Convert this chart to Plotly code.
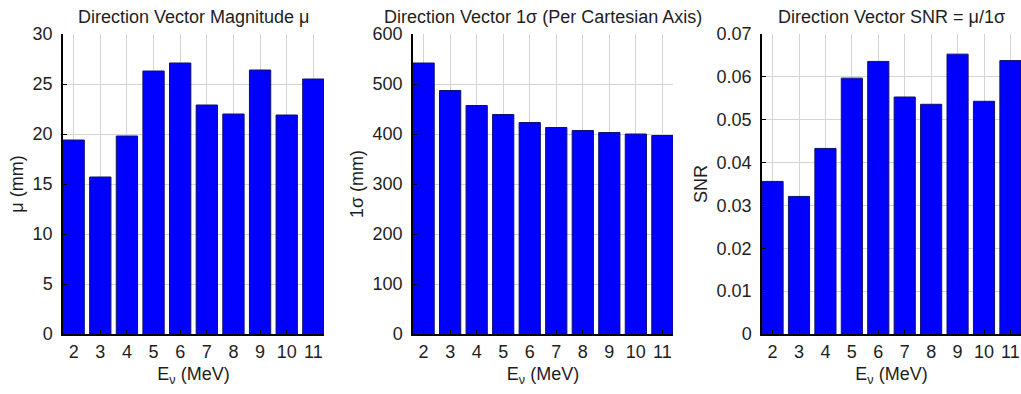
import plotly.graph_objects as go

# Neutrino energy bins (MeV)
energy = [2, 3, 4, 5, 6, 7, 8, 9, 10, 11]
energy_labels = ["2", "3", "4", "5", "6", "7", "8", "9", "10", "11"]

# Direction vector magnitude mu (mm)
mu_mm = [19.4, 15.7, 19.8, 26.3, 27.1, 22.9, 22.0, 26.4, 21.9, 25.5]
# Direction vector 1-sigma per Cartesian axis (mm)
sigma_mm = [542, 487, 457, 439, 423, 413, 407, 403, 400, 397]
# Signal-to-noise ratio mu / 1sigma
snr = [0.0356, 0.0321, 0.0433, 0.0597, 0.0636, 0.0553, 0.0536, 0.0653, 0.0543, 0.0638]

titles = [
    "Direction Vector Magnitude μ",
    "Direction Vector 1σ (Per Cartesian Axis)",
    "Direction Vector SNR = μ/1σ",
]
y_titles = ["μ (mm)", "1σ (mm)", "SNR"]
y_ranges = [(0, 30), (0, 600), (0, 0.07)]
y_dticks = [5, 100, 0.01]
series = [mu_mm, sigma_mm, snr]

W, H = 1021, 394
domains = [(63 / W, 324 / W), (413 / W, 673 / W), (762 / W, 1.0)]

FONT = "Liberation Sans, Arial, sans-serif"
TXT = "#1e1e1e"
BAR_BLUE = "#0000ff"
EDGE = "#10106a"
GRID = "#d4d4d4"

fig = go.Figure()

for i, (vals, dom) in enumerate(zip(series, domains)):
    xa = "x" if i == 0 else f"x{i + 1}"
    ya = "y" if i == 0 else f"y{i + 1}"
    fig.add_trace(go.Bar(
        x=energy, y=vals, width=0.8,
        marker=dict(color=BAR_BLUE, line=dict(color=EDGE, width=1)),
        xaxis=xa, yaxis=ya, showlegend=False,
    ))
    xkey = "xaxis" if i == 0 else f"xaxis{i + 1}"
    ykey = "yaxis" if i == 0 else f"yaxis{i + 1}"
    fig.layout[xkey] = dict(
        domain=list(dom), anchor=ya, range=[1.6, 11.4],
        tickmode="array", tickvals=energy, ticktext=energy_labels,
        ticks="inside", ticklen=4, tickcolor="black",
        showgrid=True, gridcolor=GRID, gridwidth=1,
        showline=True, linecolor="black", linewidth=1.5,
        zeroline=False,
        tickfont=dict(family=FONT, size=18, color=TXT),
        title=dict(text="E<sub>ν</sub> (MeV)", standoff=6,
                   font=dict(family=FONT, size=18, color=TXT)),
        ticklabelstandoff=1,
    )
    lo, hi = y_ranges[i]
    fig.layout[ykey] = dict(
        domain=[0, 1], anchor=xa, range=[lo, hi], dtick=y_dticks[i], tick0=0,
        ticks="inside", ticklen=4, tickcolor="black",
        showgrid=True, gridcolor=GRID, gridwidth=1,
        showline=True, linecolor="black", linewidth=1.5,
        zeroline=False,
        tickfont=dict(family=FONT, size=18, color=TXT),
        title=dict(text=y_titles[i], standoff=4,
                   font=dict(family=FONT, size=18, color=TXT)),
        ticklabelstandoff=5,
    )
    fig.add_annotation(
        text=titles[i], xref="paper", yref="paper",
        x=(dom[0] + dom[1]) / 2, y=1, yshift=5,
        xanchor="center", yanchor="bottom", showarrow=False,
        font=dict(family=FONT, size=18, color=TXT),
    )

fig.update_layout(
    width=W, height=H,
    margin=dict(l=0, r=0, t=34, b=60),
    paper_bgcolor="white", plot_bgcolor="white",
    bargap=0.2,
)

fig.write_html("out.html")
